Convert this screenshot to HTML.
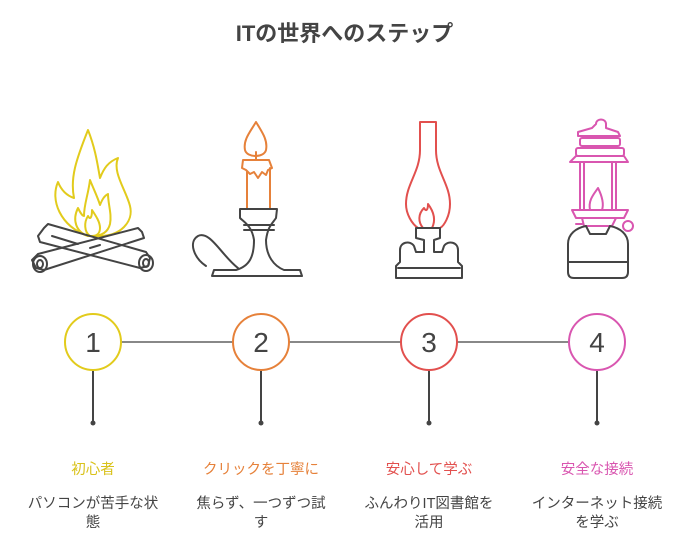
<!DOCTYPE html>
<html><head><meta charset="utf-8"><style>
body{margin:0;width:689px;height:548px;background:#fff;font-family:"Liberation Sans","Noto Sans CJK JP",sans-serif;position:relative;overflow:hidden}
.t{position:absolute;left:0;width:689px;top:16px;text-align:center;font-size:22px;font-weight:bold;color:#444}
.l{position:absolute;width:168px;text-align:center;font-size:14.5px;line-height:20px}
.d{position:absolute;width:168px;text-align:center;font-size:14.5px;color:#444;line-height:19px}
</style></head><body>
<div class="t">ITの世界へのステップ</div>
<svg width="689" height="548" style="position:absolute;left:0;top:0" fill="none" stroke-linecap="round" stroke-linejoin="round">
<line x1="121" y1="342" x2="569" y2="342" stroke="#888" stroke-width="2"/>
<g stroke="#444" stroke-width="2">
<line x1="93" y1="370" x2="93" y2="423"/><line x1="261" y1="370" x2="261" y2="423"/>
<line x1="429" y1="370" x2="429" y2="423"/><line x1="597" y1="370" x2="597" y2="423"/>
</g>
<g fill="#444"><circle cx="93" cy="423" r="2.5"/><circle cx="261" cy="423" r="2.5"/><circle cx="429" cy="423" r="2.5"/><circle cx="597" cy="423" r="2.5"/></g>
<g fill="#fff" stroke-width="2">
<circle cx="93" cy="342" r="28" stroke="#e2cb1c"/>
<circle cx="261" cy="342" r="28" stroke="#e6813a"/>
<circle cx="429" cy="342" r="28" stroke="#e2504e"/>
<circle cx="597" cy="342" r="28" stroke="#d956b0"/>
</g>
<g font-size="28" fill="#444" text-anchor="middle" font-family="Liberation Sans,sans-serif">
<text x="93" y="352">1</text><text x="261" y="352">2</text><text x="429" y="352">3</text><text x="597" y="352">4</text>
</g>
<!-- campfire -->
<g stroke="#e2cb1c" stroke-width="2">
<path d="M88 236 C60 226 50 200 58 182 C62 192 68 196 74 198 C70 178 76 160 88 130 C96 150 98 168 100 178 C104 168 108 162 118 158 C112 172 126 190 130 206 C134 222 120 236 100 236 Z"/>
<path d="M88 236 C76 232 72 220 78 208 C80 212 82 216 84 216 C84 204 88 196 90 180 C94 190 98 198 100 205 C102 200 104 196 108 194 C108 204 112 214 110 224 C108 232 102 236 92 236 Z"/>
<path d="M90 236 C84 232 84 222 88 216 C90 220 92 218 92 210 C96 216 100 222 100 228 C100 234 96 236 92 236"/>
</g>
<g stroke="#444" stroke-width="2">
<path d="M44 228 L48 224 L146 252 L150 258 L148 266 L140 268 L40 242 L38 236 Z"/>
<path d="M138 228 L142 232 L144 238 L44 270 L36 268 L32 260 L38 254 Z"/>
<ellipse cx="40" cy="264" rx="7" ry="8"/><ellipse cx="40" cy="264" rx="3" ry="4"/>
<ellipse cx="146" cy="263" rx="7" ry="8"/><ellipse cx="146" cy="263" rx="3" ry="4"/>
<line x1="52" y1="236" x2="78" y2="244"/><line x1="90" y1="248" x2="100" y2="245"/>
</g>
<!-- candle -->
<g stroke="#e6813a" stroke-width="2">
<path d="M256 122 C250 132 243 140 245 150 C247 158 264 158 266 150 C268 140 262 132 256 122 Z"/>
<line x1="256" y1="152" x2="256" y2="160"/>
<path d="M243 160 L269 160 L272 168 L268 170 L266 175 L262 172 L258 178 L254 172 L250 174 L246 170 L242 168 Z"/>
<line x1="247" y1="172" x2="247" y2="209"/><line x1="270" y1="168" x2="270" y2="209"/>
</g>
<g stroke="#444" stroke-width="2">
<path d="M240 209 L277 209 L276 218 C272 224 268 226 266 240 C266 256 274 266 284 270 L300 270 L302 276 L212 276 L214 270 L236 270 C250 266 254 256 254 240 C252 226 244 222 240 218 Z"/>
<line x1="244" y1="225" x2="274" y2="225"/><line x1="244" y1="230" x2="274" y2="230"/>
<path d="M238 268 C222 256 210 230 198 236 C188 242 194 258 206 266"/>
</g>
<!-- oil lamp -->
<g stroke="#e2504e" stroke-width="2">
<path d="M420 122 L436 122 L436 150 C436 172 450 184 450 204 C450 216 444 226 440 228 L418 228 C412 224 406 214 406 204 C406 184 420 172 420 150 Z"/>
<path d="M423 228 C418 222 418 214 424 208 C426 212 428 210 428 204 C434 212 436 220 432 228"/>
</g>
<g stroke="#444" stroke-width="2">
<path d="M416 228 L440 228 L440 238 L434 240 L434 252 L442 252 L444 246 C448 240 458 242 458 250 L458 262 L462 266 L462 278 L396 278 L396 266 L400 262 L400 250 C400 242 410 240 414 246 L416 252 L424 252 L424 240 L416 238 Z"/>
<line x1="398" y1="268" x2="460" y2="268"/>
</g>
<!-- gas lantern -->
<g stroke="#d956b0" stroke-width="2">
<path d="M596 124 C596 118 606 118 606 124 L606 128 L618 132 L620 136 L578 136 L578 132 L592 128 Z"/>
<rect x="580" y="138" width="40" height="8" rx="2"/>
<rect x="576" y="148" width="48" height="8" rx="2"/>
<path d="M576 156 L624 156 L628 162 L570 162 Z"/>
<line x1="580" y1="162" x2="580" y2="210"/><line x1="584" y1="162" x2="584" y2="210"/>
<line x1="612" y1="162" x2="612" y2="210"/><line x1="616" y1="162" x2="616" y2="210"/>
<path d="M590 210 C588 200 594 194 598 188 C602 196 604 204 602 210"/>
<path d="M572 210 L628 210 L624 218 L576 218 Z"/>
<path d="M582 218 L616 218 L612 226 L584 226 Z"/>
<circle cx="628" cy="226" r="5"/><line x1="576" y1="224" x2="582" y2="224"/>
</g>
<g stroke="#444" stroke-width="2">
<path d="M586 226 L590 234 L606 234 L610 226 C620 228 628 234 628 244 L628 272 C628 276 626 278 622 278 L574 278 C570 278 568 276 568 272 L568 244 C568 234 576 228 586 226 Z"/>
<line x1="568" y1="262" x2="628" y2="262"/>
</g>
</svg>
<div class="l" style="left:9px;top:460px;color:#d9c21a">初心者</div>
<div class="l" style="left:177px;top:460px;color:#e6813a">クリックを丁寧に</div>
<div class="l" style="left:345px;top:460px;color:#e2504e">安心して学ぶ</div>
<div class="l" style="left:513px;top:460px;color:#d956b0">安全な接続</div>
<div class="d" style="left:9px;top:495px">パソコンが苦手な状<br>態</div>
<div class="d" style="left:177px;top:495px">焦らず、一つずつ試<br>す</div>
<div class="d" style="left:345px;top:495px">ふんわりIT図書館を<br>活用</div>
<div class="d" style="left:513px;top:495px">インターネット接続<br>を学ぶ</div>
</body></html>
